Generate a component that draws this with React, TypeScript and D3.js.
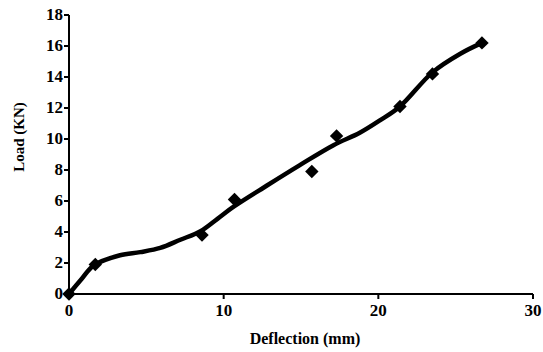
import React from "react";
import * as d3 from "d3";

// measured points (diamonds)
const deflection = [0, 1.7, 8.6, 10.7, 15.7, 17.3, 21.4, 23.5, 26.7];
const load = [0, 1.9, 3.8, 6.1, 7.9, 10.2, 12.1, 14.2, 16.2];

// smoothed trend line
const curveX = [0, 0.8, 1.6, 3.3, 4.6, 5.9, 7.2, 8.5, 9.6, 10.6, 12.8, 14.9, 17.1, 18.8, 20.1, 21.4, 23.5, 25.3, 26.7];
const curveY = [0, 0.95, 1.85, 2.5, 2.7, 2.97, 3.5, 4.05, 4.85, 5.6, 7.0, 8.3, 9.6, 10.4, 11.2, 12.1, 14.3, 15.5, 16.2];

const xTicks = [0, 10, 20, 30];
const yTicks = [0, 2, 4, 6, 8, 10, 12, 14, 16, 18];

const W = 543, H = 352;

export default function App() {
  const x = d3.scaleLinear().domain([0, 30]).range([69, 533]);
  const y = d3.scaleLinear().domain([0, 18]).range([294, 15]);

  const line = d3
    .line<number>()
    .x((d, i) => x(curveX[i]))
    .y((d, i) => y(curveY[i]))
    .curve(d3.curveCatmullRom.alpha(0.5));

  const diamond = d3.symbol().type(d3.symbolSquare).size(90)();

  const font = "Times New Roman, Liberation Serif, serif";

  return (
    <svg width={W} height={H} style={{ position: "absolute", left: 0, top: 0, background: "#fff" }}>
      <rect width={W} height={H} fill="#fff" />
      {/* axes */}
      <line x1={x(0)} x2={x(30)} y1={y(0)} y2={y(0)} stroke="#000" strokeWidth={2} />
      <line x1={x(0)} x2={x(0)} y1={y(0)} y2={y(18)} stroke="#000" strokeWidth={2} />
      {yTicks.map((t) => (
        <g key={"y" + t}>
          <line x1={x(0) - 5} x2={x(0)} y1={y(t)} y2={y(t)} stroke="#000" strokeWidth={2} />
          <text x={x(0) - 6} y={y(t) + 5} textAnchor="end" fontFamily={font} fontWeight="bold" fontSize={17}>
            {t}
          </text>
        </g>
      ))}
      {xTicks.map((t) => (
        <g key={"x" + t}>
          <line x1={x(t)} x2={x(t)} y1={y(0)} y2={y(0) + 5} stroke="#000" strokeWidth={2} />
          <text x={x(t)} y={y(0) + 22} textAnchor="middle" fontFamily={font} fontWeight="bold" fontSize={17}>
            {t}
          </text>
        </g>
      ))}
      <text x={305} y={344} textAnchor="middle" fontFamily={font} fontWeight="bold" fontSize={16}>
        Deflection (mm)
      </text>
      <text
        transform={`translate(24,${137}) rotate(-90)`}
        textAnchor="middle"
        fontFamily={font}
        fontWeight="bold"
        fontSize={15}
      >
        Load (KN)
      </text>
      {/* trend line */}
      <path d={line(curveX) || ""} fill="none" stroke="#000" strokeWidth={4.5} strokeLinejoin="round" />
      {/* markers */}
      {deflection.map((d, i) => (
        <path
          key={i}
          d={diamond || ""}
          transform={`translate(${x(d)},${y(load[i])}) rotate(45)`}
          fill="#000"
        />
      ))}
    </svg>
  );
}
